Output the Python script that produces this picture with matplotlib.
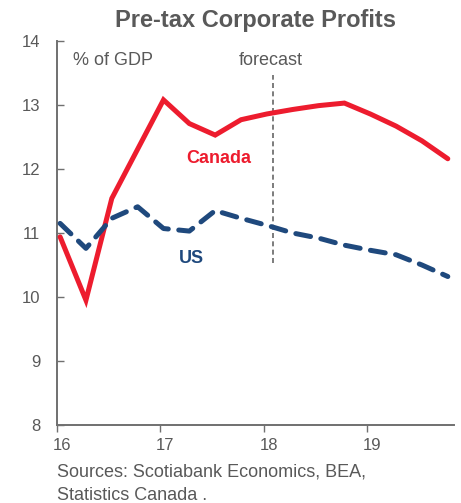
import matplotlib
matplotlib.use("Agg")
import matplotlib.pyplot as plt
import matplotlib.transforms as mtransforms

plt.rcParams['font.family'] = ['Liberation Sans', 'DejaVu Sans']

# ---- data (quarterly, 2016Q1 .. 2019Q4) ----
quarters = list(range(16))
canada = [10.94, 9.95, 11.54, 12.31, 13.08, 12.71, 12.53, 12.77,
          12.86, 12.93, 12.99, 13.03, 12.86, 12.67, 12.44, 12.16]
us = [11.15, 10.76, 11.23, 11.41, 11.07, 11.03, 11.35, 11.23,
      11.12, 11.00, 10.92, 10.81, 10.73, 10.66, 10.50, 10.32]
x_ticks = [16, 17, 18, 19]
x_tick_labels = ['16', '17', '18', '19']
y_ticks = [8, 9, 10, 11, 12, 13, 14]
forecast_x = 18.09

xvals = [16 + 0.03 + q * 0.25 for q in quarters]

RED = '#ED1C2E'
BLUE = '#1F497D'
GRAY = '#595959'
AXGRAY = '#707070'

fig = plt.figure(figsize=(4.61, 5.03), dpi=100)
ax = fig.add_axes([57 / 461, 1 - 425 / 503, (454 - 57) / 461, (425 - 41) / 503])

ax.plot(xvals, canada, color=RED, lw=3.6, solid_capstyle='round',
        solid_joinstyle='miter', zorder=3)
ax.plot(xvals, us, color=BLUE, lw=3.6, dashes=(3.0, 2.1),
        dash_capstyle='round', zorder=3)

ax.plot([forecast_x, forecast_x], [10.53, 13.47], color='#666666',
        lw=1.2, dashes=(3, 2), zorder=2)

ax.set_xlim(16, 19.84)
ax.set_ylim(8, 14)
ax.set_xticks(x_ticks)
ax.set_xticklabels(x_tick_labels)
ax.set_yticks(y_ticks)

for s in ['top', 'right']:
    ax.spines[s].set_visible(False)
for s in ['left', 'bottom']:
    ax.spines[s].set_color(AXGRAY)
    ax.spines[s].set_linewidth(1.4)

ax.tick_params(axis='y', direction='in', length=5, width=1.0, color=AXGRAY,
               labelcolor=GRAY, labelsize=12, pad=12)
ax.tick_params(axis='x', direction='out', length=5, width=1.0, color=AXGRAY,
               labelcolor=GRAY, labelsize=12, pad=4)
offset = mtransforms.ScaledTranslation(5 / 100, 0, fig.dpi_scale_trans)
for lab in ax.get_xticklabels():
    lab.set_transform(lab.get_transform() + offset)

ax.text(16.15, 13.7, '% of GDP', color=GRAY, fontsize=13, va='center', ha='left')
ax.text(18.07, 13.7, 'forecast', color=GRAY, fontsize=13, va='center', ha='center')
ax.text(17.56, 12.16, 'Canada', color=RED, fontsize=13, fontweight='bold',
        va='center', ha='center')
ax.text(17.30, 10.6, 'US', color=BLUE, fontsize=13, fontweight='bold',
        va='center', ha='center')

fig.text(255 / 461, 1 - 21 / 503, 'Pre-tax Corporate Profits', color=GRAY,
         fontsize=17, fontweight='bold', ha='center', va='center')
fig.text(57 / 461, 1 - 472 / 503, 'Sources: Scotiabank Economics, BEA,',
         color=GRAY, fontsize=13, ha='left', va='center')
fig.text(57 / 461, 1 - 495 / 503, 'Statistics Canada .',
         color=GRAY, fontsize=13, ha='left', va='center')

fig.savefig('out.png', dpi=100)
